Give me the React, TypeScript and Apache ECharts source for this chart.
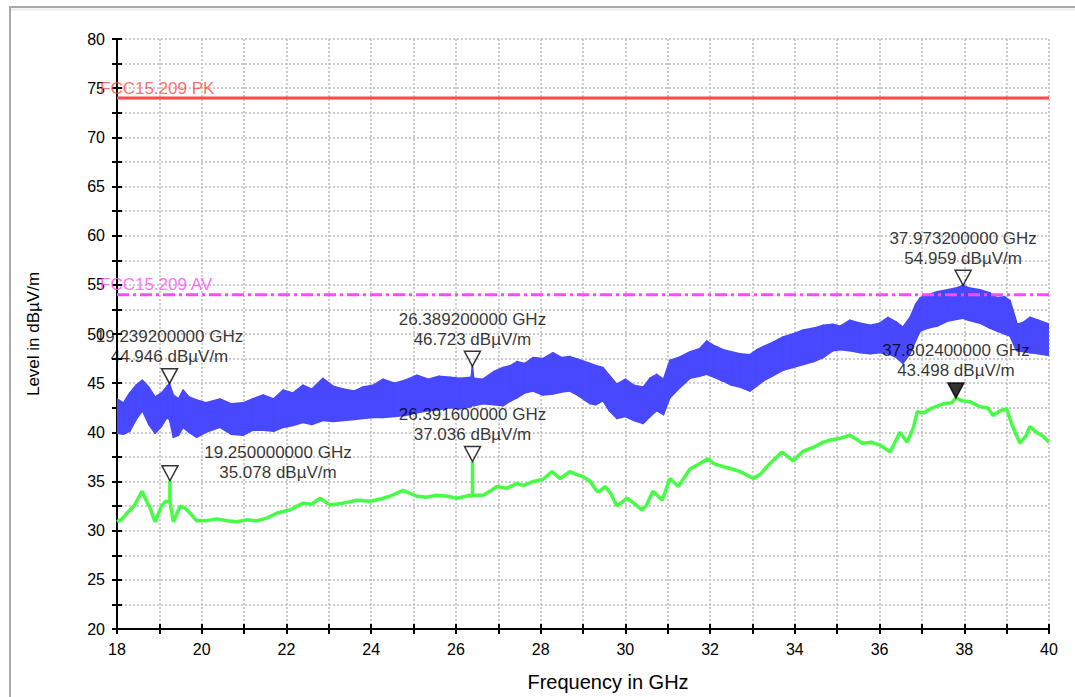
import React, { useEffect, useRef } from "react";
import * as echarts from "echarts";

// ---------- data ----------
const blueFreq = [
  18.0, 18.15, 18.3, 18.45, 18.6, 18.75, 18.9, 19.05, 19.18, 19.2392, 19.33, 19.45, 19.56, 19.7, 19.88,
  20.1, 20.43, 20.7, 20.97, 21.2, 21.45, 21.7, 21.92, 22.15, 22.39, 22.6, 22.86, 23.1, 23.34, 23.6, 23.8,
  24.05, 24.28, 24.55, 24.8, 25.08, 25.35, 25.6, 25.86, 26.1, 26.36, 26.3892, 26.42, 26.64, 26.9, 27.11,
  27.3, 27.44, 27.62, 27.82, 28.05, 28.29, 28.5, 28.69, 28.9, 29.17, 29.3, 29.47, 29.62, 29.8, 30.0, 30.2,
  30.42, 30.58, 30.74, 30.9, 31.05, 31.3, 31.53, 31.75, 31.92, 32.1, 32.31, 32.5, 32.7, 32.94, 33.1, 33.25,
  33.5, 33.72, 33.95, 34.2, 34.45, 34.67, 34.9, 35.07, 35.3, 35.55, 35.78, 36.0, 36.2, 36.4, 36.55, 36.72,
  36.85, 36.96, 37.15, 37.36, 37.6, 37.83, 37.9732, 38.1, 38.37, 38.6, 38.77, 38.95, 39.08, 39.2, 39.25,
  39.4, 39.55, 39.75, 40.0,
];
const blueUpper = [
  43.4, 43.0, 44.0, 44.8, 45.3, 44.6, 43.6, 44.0, 44.7, 44.946, 43.8, 43.4, 44.3, 43.6, 43.3,
  43.0, 43.4, 42.9, 43.0, 43.4, 43.8, 43.4, 44.3, 44.0, 44.8, 44.4, 45.5, 44.7, 44.4, 44.2, 44.6,
  44.8, 45.4, 45.0, 45.3, 45.8, 45.4, 45.7, 45.6, 45.5, 45.6, 46.723, 45.5, 45.4, 46.2, 46.6,
  46.8, 47.2, 47.0, 47.6, 47.5, 48.1, 47.6, 47.7, 47.4, 47.0, 46.8, 46.6, 45.8, 44.9, 45.4, 44.8,
  44.6, 45.5, 45.9, 45.4, 47.3, 47.7, 48.2, 48.5, 49.3, 48.8, 48.4, 48.2, 48.0, 47.9, 48.4, 48.7,
  49.2, 49.7, 50.0, 50.4, 50.6, 50.9, 51.0, 50.8, 51.4, 51.1, 50.9, 51.1, 51.7, 51.2, 50.7, 51.7,
  53.0, 53.7, 54.0, 54.3, 54.5, 54.7, 54.959, 54.7, 54.5, 54.2, 53.7, 53.8, 53.4, 51.7, 51.0,
  51.2, 51.7, 51.4, 51.0,
];
const blueLower = [
  39.9, 39.8, 40.1, 41.3, 42.2, 40.8, 39.9, 40.6, 41.5, 41.3, 39.5, 39.7, 40.5, 40.0, 39.5,
  40.0, 40.5, 39.8, 39.7, 40.2, 40.2, 40.1, 40.5, 40.7, 41.0, 40.8, 41.2, 41.1, 41.2, 41.3, 41.4,
  41.5, 41.5, 41.6, 41.7, 42.0, 42.2, 42.3, 42.5, 42.4, 42.6, 42.8, 42.7, 42.9, 42.8, 42.7,
  43.2, 43.5, 44.0, 44.2, 43.8, 43.9, 44.1, 44.2, 43.7, 42.9, 42.8, 43.2, 42.2, 41.4, 41.6, 41.2,
  40.9, 41.6, 42.2, 41.8, 43.5, 44.6, 45.5, 45.7, 45.9, 45.6, 45.2, 44.8, 44.6, 44.2, 44.7, 45.2,
  45.8, 46.3, 46.6, 46.9, 47.2, 47.6, 48.3, 48.4, 48.3, 48.1, 48.0, 48.1, 48.0, 47.6, 47.0, 48.0,
  49.3, 50.3, 50.6, 50.8, 51.3, 51.5, 51.6, 51.4, 51.1, 50.6, 50.3, 50.0, 49.8, 48.6, 48.3,
  48.2, 48.1, 48.0, 47.8,
];

const greenFreq = [
  18.0, 18.12, 18.24, 18.4, 18.59, 18.7, 18.78, 18.9, 19.05, 19.15, 19.248, 19.25, 19.252, 19.33, 19.49,
  19.6, 19.72, 19.88, 20.1, 20.36, 20.6, 20.83, 21.05, 21.3, 21.55, 21.78, 22.08, 22.39, 22.6, 22.79,
  23.03, 23.34, 23.66, 23.97, 24.2, 24.44, 24.75, 25.08, 25.3, 25.55, 25.8, 26.03, 26.33, 26.39,
  26.3916, 26.393, 26.64, 26.8, 26.97, 27.2, 27.44, 27.6, 27.82, 28.05, 28.27, 28.46, 28.69, 28.85,
  29.0, 29.17, 29.33, 29.4, 29.52, 29.65, 29.8, 30.04, 30.2, 30.39, 30.5, 30.65, 30.87, 31.05, 31.25,
  31.53, 31.75, 31.95, 32.1, 32.31, 32.5, 32.71, 33.02, 33.2, 33.34, 33.5, 33.7, 33.96, 34.2, 34.45,
  34.67, 34.83, 35.07, 35.3, 35.6, 35.8, 36.01, 36.25, 36.48, 36.65, 36.8, 36.89, 37.05, 37.2, 37.5,
  37.7, 37.8024, 37.95, 38.14, 38.37, 38.55, 38.68, 38.85, 39.0, 39.13, 39.31, 39.45, 39.55, 39.7,
  39.86, 40.0,
];
const greenLevel = [
  30.9, 31.2, 31.8, 32.5, 34.0, 33.0, 32.3, 30.9, 32.5, 33.0, 32.9, 35.078, 32.9, 30.9, 32.5,
  32.3, 31.8, 31.0, 31.0, 31.2, 31.0, 30.9, 31.1, 31.0, 31.3, 31.8, 32.1, 32.8, 32.7, 33.3,
  32.6, 32.8, 33.1, 33.0, 33.2, 33.5, 34.1, 33.5, 33.4, 33.6, 33.5, 33.3, 33.6, 33.5,
  37.036, 33.6, 33.6, 34.0, 34.5, 34.3, 34.8, 34.6, 35.0, 35.2, 36.0, 35.3, 36.0, 35.7,
  35.5, 35.0, 34.0, 34.0, 34.5, 33.8, 32.5, 33.3, 32.8, 32.1, 32.6, 34.0, 33.1, 35.3, 34.5,
  36.3, 36.8, 37.3, 36.8, 36.5, 36.3, 36.0, 35.3, 35.8, 36.5, 37.2, 38.0, 37.1, 38.1, 38.5,
  39.0, 39.2, 39.4, 39.7, 38.9, 39.0, 38.7, 38.0, 40.0, 39.0, 40.5, 42.1, 42.0, 42.4, 42.9,
  43.0, 43.498, 43.2, 43.1, 42.6, 42.5, 41.7, 42.2, 42.4, 40.7, 38.9, 39.6, 40.6, 40.0,
  39.6, 39.0,
];

const limitNames = ["FCC15.209 PK", "FCC15.209 AV"];
const limitLevels = [74, 54];

const markerFreq = [19.2392, 26.3892, 37.9732, 19.25, 26.3916, 37.8024];
const markerLevel = [44.946, 46.723, 54.959, 35.078, 37.036, 43.498];

const xMin = 18;
const xMax = 40;
const yMin = 20;
const yMax = 80;
const xAxisName = "Frequency in GHz";
const yAxisName = "Level in dBµV/m";

// ---------- styles ----------
const FONT = "'Liberation Sans', Arial, sans-serif";
const BLUE = "#4848ff";
const GREEN = "#44ff44";
const RED = "#ff4848";
const MAGENTA = "#ff48ff";
const GRID = "#bdbdbd";

export default function App() {
  const ref = useRef<HTMLDivElement>(null);

  useEffect(() => {
    if (!ref.current) return;
    const chart = echarts.init(ref.current, undefined, { renderer: "svg" });

    const bandData = blueFreq.map((f, i) => [f, blueLower[i], blueUpper[i]]);
    const greenData = greenFreq.map((f, i) => [f, greenLevel[i]]);

    const labelOffsets = [
      [0, -37],
      [0, -37],
      [0, -37],
      [108, -18],
      [0, -37],
      [0, -37],
    ];

    const markerTri = markerFreq.map((f, i) => ({
      value: [f, markerLevel[i]],
      itemStyle: {
        color: i === 5 ? "#000" : "rgba(255,255,255,0)",
        borderColor: "#000",
        borderWidth: 1.5,
      },
    }));

    const markerLabels = markerFreq.map((f, i) => ({
      value: [f, markerLevel[i]],
      label: {
        show: true,
        position: "inside",
        offset: labelOffsets[i],
        formatter: `${f.toFixed(9)} GHz\n${markerLevel[i].toFixed(3)} dBµV/m`,
      },
    }));

    const axisCommonLine = { show: true, lineStyle: { color: "#000", width: 2 } };

    chart.setOption({
      animation: false,
      backgroundColor: "#ffffff",
      textStyle: { fontFamily: FONT },
      grid: { left: 117, right: 26, top: 39, bottom: 66, containLabel: false },
      graphic: [
        {
          type: "rect",
          shape: { x: 10, y: 7, width: 1100, height: 720 },
          style: { fill: "none", stroke: "#a9a9a9", lineWidth: 2 },
          silent: true,
          z: -10,
        },
        {
          type: "line",
          shape: { x1: 11, y1: 9.5, x2: 1075, y2: 9.5 },
          style: { stroke: "#ececec", lineWidth: 2 },
          silent: true,
          z: -10,
        },
      ],
      xAxis: [
        {
          type: "value",
          min: xMin,
          max: xMax,
          interval: 1,
          position: "bottom",
          name: xAxisName,
          nameLocation: "middle",
          nameGap: 43,
          nameTextStyle: {
            fontSize: 20,
            color: "#000",
            fontFamily: FONT,
            padding: [0, 0, 0, 50],
          },
          axisLine: { ...axisCommonLine, onZero: false },
          axisTick: { show: true, length: 5, inside: false, lineStyle: { color: "#000", width: 2 } },
          axisLabel: {
            show: true,
            margin: 12,
            fontSize: 16,
            color: "#000",
            fontFamily: FONT,
            formatter: (v: number) => (Math.round(v) % 2 === 0 ? String(v) : ""),
          },
          splitLine: { show: true, lineStyle: { color: GRID, type: [2, 2], width: 1.5 } },
        },
        {
          type: "value",
          min: xMin,
          max: xMax,
          interval: 1,
          position: "bottom",
          axisLine: { show: false, onZero: false },
          axisTick: { show: true, length: 5, inside: true, lineStyle: { color: "#000", width: 2 } },
          axisLabel: { show: false },
          splitLine: { show: false },
        },
      ],
      yAxis: [
        {
          type: "value",
          min: yMin,
          max: yMax,
          interval: 2.5,
          position: "left",
          name: yAxisName,
          nameLocation: "middle",
          nameGap: 75,
          nameTextStyle: { fontSize: 17, color: "#000", fontFamily: FONT },
          axisLine: { ...axisCommonLine, onZero: false },
          axisTick: { show: true, length: 5, inside: false, lineStyle: { color: "#000", width: 2 } },
          axisLabel: {
            show: true,
            margin: 12,
            fontSize: 16,
            color: "#000",
            fontFamily: FONT,
            formatter: (v: number) => (v % 5 === 0 ? String(v) : ""),
          },
          splitLine: { show: true, lineStyle: { color: GRID, type: [2, 2], width: 1.5 } },
        },
        {
          type: "value",
          min: yMin,
          max: yMax,
          interval: 2.5,
          position: "left",
          axisLine: { show: false, onZero: false },
          axisTick: { show: true, length: 5, inside: true, lineStyle: { color: "#000", width: 2 } },
          axisLabel: { show: false },
          splitLine: { show: false },
        },
      ],
      series: [
        {
          name: "Peak",
          type: "custom",
          data: bandData,
          encode: { x: 0, y: [1, 2] },
          clip: true,
          renderItem: (params: any, api: any) => {
            const i = params.dataIndex;
            if (i >= blueFreq.length - 1) return null;
            const u1 = api.coord([blueFreq[i], blueUpper[i]]);
            const u2 = api.coord([blueFreq[i + 1], blueUpper[i + 1]]);
            const l2 = api.coord([blueFreq[i + 1], blueLower[i + 1]]);
            const l1 = api.coord([blueFreq[i], blueLower[i]]);
            return {
              type: "polygon",
              shape: { points: [u1, u2, l2, l1] },
              style: { fill: BLUE, stroke: BLUE, lineWidth: 1.5, lineJoin: "round" },
            };
          },
          z: 2,
        },
        {
          name: "Average",
          type: "line",
          data: greenData,
          symbol: "none",
          lineStyle: { color: GREEN, width: 3.5 },
          z: 3,
        },
        {
          name: limitNames[0],
          type: "line",
          data: [
            [xMin, limitLevels[0]],
            [xMax, limitLevels[0]],
          ],
          symbol: "none",
          lineStyle: { color: RED, width: 3 },
          z: 4,
        },
        {
          name: limitNames[1],
          type: "line",
          data: [
            [xMin, limitLevels[1]],
            [xMax, limitLevels[1]],
          ],
          symbol: "none",
          lineStyle: { color: MAGENTA, width: 3, type: [12, 4, 3, 4] },
          z: 4,
        },
        {
          name: "Limit labels",
          type: "scatter",
          symbolSize: 1,
          itemStyle: { color: "rgba(0,0,0,0)" },
          data: limitLevels.map((lv, i) => ({
            value: [xMin, lv],
            label: {
              show: true,
              position: "inside",
              align: "left",
              verticalAlign: "middle",
              offset: [-17, -10],
              formatter: limitNames[i],
              color: i === 0 ? RED : MAGENTA,
              fontSize: 17,
              fontFamily: FONT,
            },
          })),
          z: 5,
        },
        {
          name: "Markers",
          type: "scatter",
          symbol: "triangle",
          symbolSize: [16, 15],
          symbolRotate: 180,
          symbolOffset: [0, -7.5],
          data: markerTri,
          z: 6,
        },
        {
          name: "Marker labels",
          type: "scatter",
          symbolSize: 1,
          itemStyle: { color: "rgba(0,0,0,0)" },
          label: {
            color: "#000",
            fontSize: 17,
            fontFamily: FONT,
            lineHeight: 20,
            align: "center",
            verticalAlign: "middle",
          },
          data: markerLabels,
          z: 6,
        },
      ],
    });

    return () => chart.dispose();
  }, []);

  return (
    <div
      ref={ref}
      style={{ position: "absolute", left: 0, top: 0, width: 1075, height: 697, background: "#fff" }}
    />
  );
}
